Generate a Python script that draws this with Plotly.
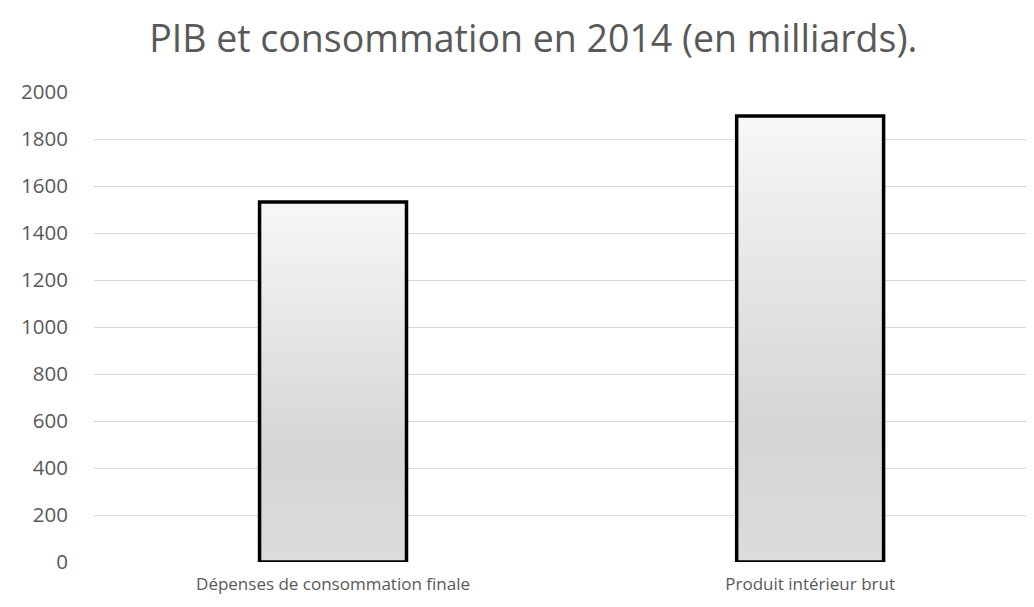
import plotly.graph_objects as go

categories = ["Dépenses de consommation finale", "Produit intérieur brut"]
values = [1532, 1898]
y_ticks = [0, 200, 400, 600, 800, 1000, 1200, 1400, 1600, 1800, 2000]

half_w = 0.154
fig = go.Figure()
for i, v in enumerate(values):
    fig.add_trace(go.Scatter(
        x=[i - half_w, i - half_w, i + half_w, i + half_w, i - half_w],
        y=[0, v, v, 0, 0],
        mode="lines",
        fill="toself",
        fillgradient=dict(type="vertical",
                          colorscale=[[0, "#dcdcdc"], [0.3, "#d5d5d5"], [1, "#f7f7f7"]]),
        line=dict(color="#000000", width=3.5),
        hoverinfo="skip",
        showlegend=False,
        name=categories[i],
    ))

fig.update_layout(
    width=1034, height=607,
    margin=dict(l=86, r=0, t=84, b=53),
    paper_bgcolor="white", plot_bgcolor="white",
    title=dict(text="PIB et consommation en 2014 (en milliards).",
               x=0.508, xanchor="center", y=0.949, yanchor="middle",
               font=dict(family="Open Sans, Noto Sans, sans-serif", size=37.5, color="#595959")),
    font=dict(family="Open Sans, Noto Sans, sans-serif", color="#595959"),
    showlegend=False,
)
fig.update_xaxes(range=[-0.501, 1.486], tickvals=[0, 1], ticktext=categories,
                 showgrid=False, zeroline=False, showline=False, ticks="",
                 ticklabelstandoff=10,
                 tickfont=dict(size=17, color="#595959"), fixedrange=True)
fig.update_yaxes(range=[0, 2000], tickvals=y_ticks, showgrid=True, gridcolor="#d9d9d9",
                 gridwidth=1.3, zeroline=False, showline=False, ticks="",
                 ticklabelstandoff=25,
                 tickfont=dict(size=20.5, color="#595959"), fixedrange=True)
fig.write_html("out.html")
